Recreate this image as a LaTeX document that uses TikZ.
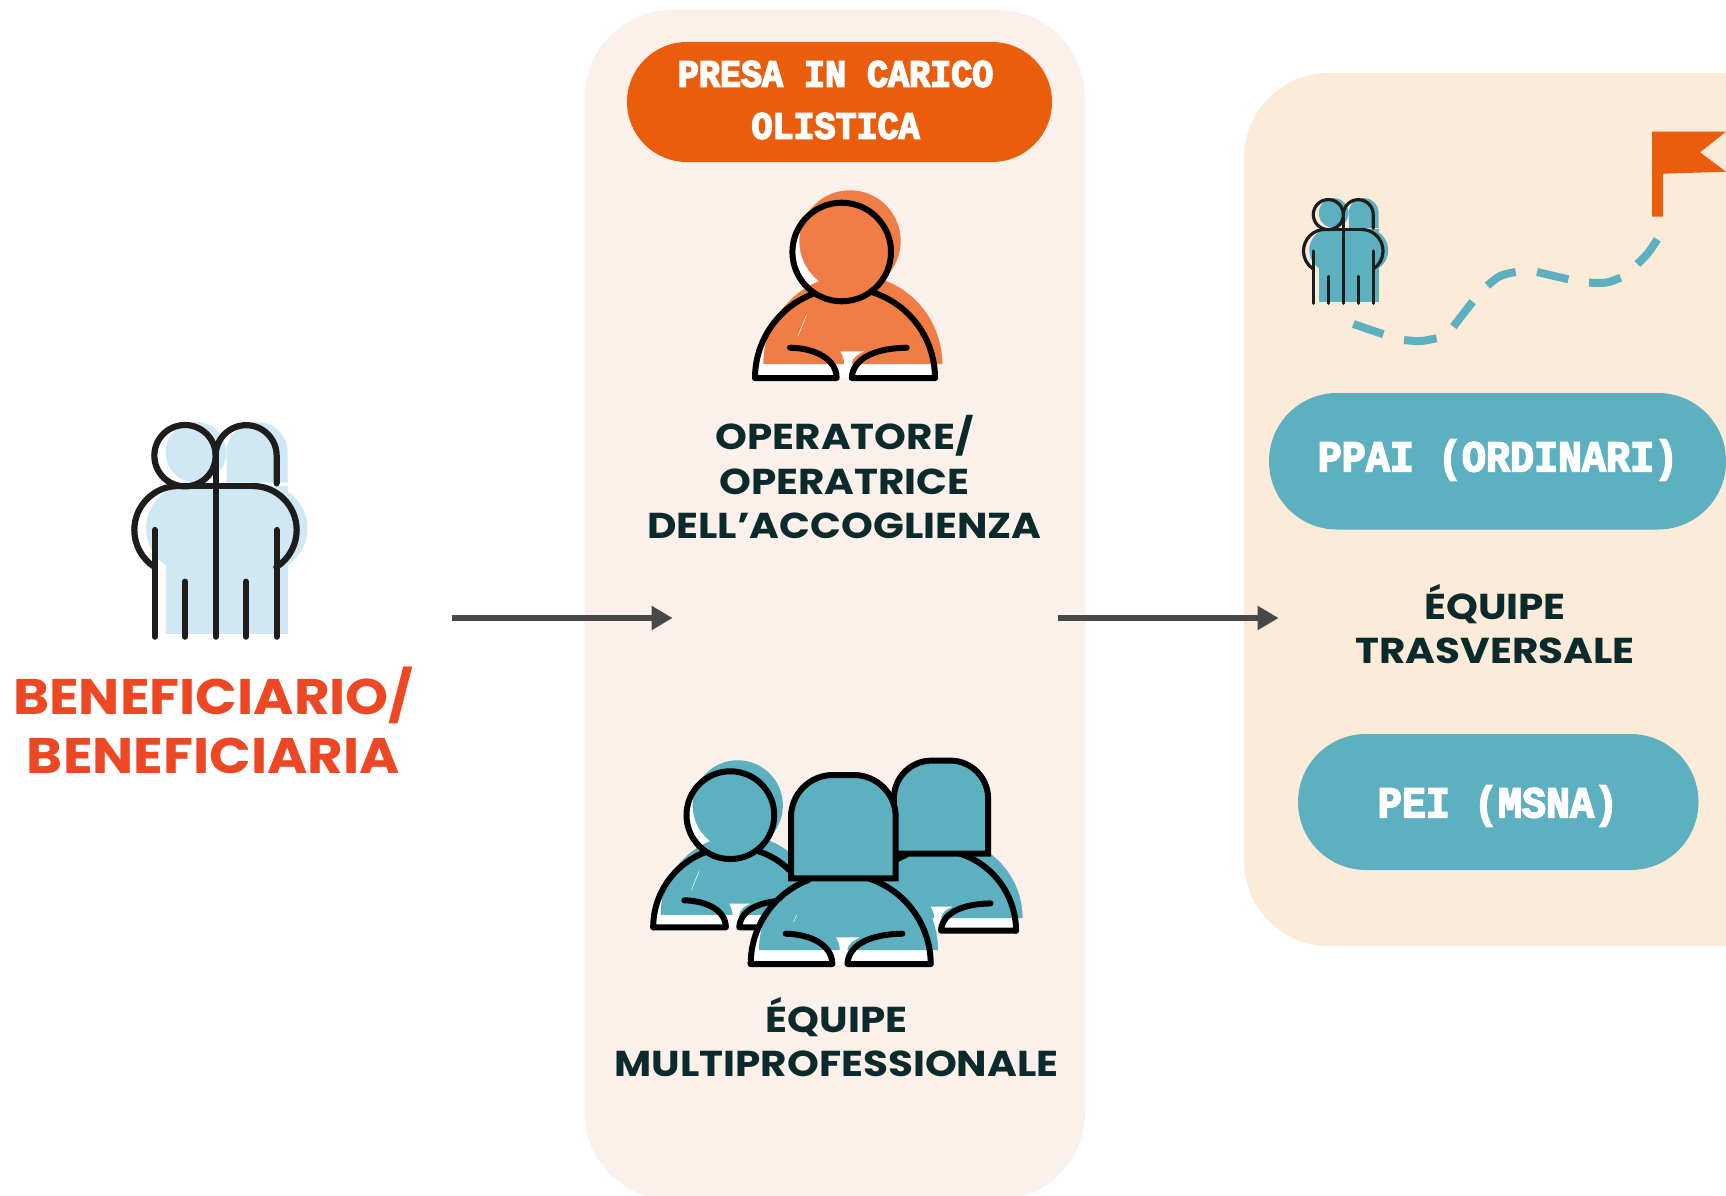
\documentclass[tikz,border=0pt]{standalone}
\usepackage{fontspec}
\usetikzlibrary{arrows.meta}
\setmainfont{Poppins}[FakeStretch=1.125]
\newfontfamily\benefont{Poppins}[FakeStretch=1.095]
\newfontfamily\pillfont{Liberation Mono}[FakeStretch=0.91]
\newcommand{\heavytext}[1]{\special{pdf:code 2 Tr 1.6 w}#1\special{pdf:code 0 Tr}}
\definecolor{panelA}{HTML}{FCF0EB}
\definecolor{panelB}{HTML}{FDEBDA}
\definecolor{orangeDeep}{HTML}{EA5D0C}
\definecolor{orangeSoft}{HTML}{F07D45}
\definecolor{tealC}{HTML}{5DB0BF}
\definecolor{blueSoft}{HTML}{CFE8F3}
\definecolor{redText}{HTML}{EE4723}
\definecolor{darkText}{HTML}{0A2A2B}
\definecolor{inkC}{HTML}{1D1D1B}
\definecolor{arrowC}{HTML}{484848}
\tikzset{
  pilltext/.style={text=white,align=center,font=\pillfont\bfseries\fontsize{38.5}{52}\selectfont,inner sep=0pt},
  pilltextB/.style={text=white,align=center,font=\pillfont\bfseries\fontsize{44}{52}\selectfont,inner sep=0pt},
  labeltext/.style={text=darkText,align=center,font=\bfseries\fontsize{36}{44.5}\selectfont,inner sep=0pt},
  benetext/.style={text=redText,align=center,font=\benefont\bfseries\fontsize{50}{59}\selectfont,inner sep=0pt},
  flow/.style={draw=arrowC,line width=6pt,-{Triangle[length=21pt,width=23pt]}},
  ink/.style={draw=#1,line cap=round,line join=round,fill=none},
  road/.style={draw=tealC,line width=8pt},
}
% person parts in local coordinates, origin at base centre of the body
\newcommand{\pbodyfill}[1]{%
  \fill[white] (-90,0) arc (180:360:90) -- cycle;
  \fill[#1] (-81.7,-14) arc (180:360:89.5) -- (6.7,-14) .. controls (7,-20) and (13,-24) .. (20,-26.7) -- (-5,-26.7) .. controls (-2,-22) and (-1,-18) .. (-1,-14) -- cycle;
}
\newcommand{\pbodyink}{%
  \draw[ink=black,line width=6pt] (-90,0) arc (180:249:90);
  \draw[ink=black,line width=6pt] (90,0) arc (0:-72:90);
  \draw[ink=black,line width=6pt] (-90,0) -- (-8.3,0) .. controls (-9,-22) and (-35,-30) .. (-55,-30.3);
  \draw[ink=black,line width=6pt] (90,0) -- (6.7,0) .. controls (8,-22) and (35,-30) .. (61.7,-30.3);
}
\newcommand{\manback}{\fill[white] (-3.3,-126) circle (49.3);}
\newcommand{\manhead}[1]{%
  \fill[#1] (5,-137) circle (50.7);
  \draw[ink=black,line width=6pt] (-3.3,-126) circle (49.3);
}
\newcommand{\womanhair}[2]{%
  \filldraw[fill=#1,draw=black,line width=6pt,line join=miter]
    (-49.7+#2,-85.7) -- (-49.7+#2,-147) arc (180:270:42) -- (13+#2,-189) arc (270:360:42) -- (55+#2,-85.7) -- cycle;
}
% couple icon, in the coordinates of a 3x crop
\newcommand{\couple}[2]{%
  \fill[#1] (288,157) circle (91);
  \fill[#1] (380,248) -- (380,157) arc (180:270:91) -- (472,66) arc (270:360:91) -- (563,248) -- cycle;
  \fill[#1] (270,385) circle (132);
  \fill[#1] (490,385) circle (132);
  \fill[#1] (270,253) rectangle (490,400);
  \fill[#1] (197,258) rectangle (563,702);
  \begin{scope}[ink=inkC,line width=#2]
    \draw (255,167) circle (92);
    \draw (347,167) arc (180:270:91.5) arc (270:360:91.5) -- (530,250);
    \draw (235,258) arc (270:122.5:132);
    \draw (458,258) arc (-90:57.5:132);
    \draw (235,258) -- (458,258);
    \draw (347,160) -- (347,710);
    \draw (164,390) -- (164,710);
    \draw (530,390) -- (530,710);
    \draw (255,545) -- (255,710);
    \draw (438,545) -- (438,710);
  \end{scope}
}
\begin{document}
\begin{tikzpicture}[yscale=-1,x=1pt,y=1pt]
\useasboundingbox (0,0) rectangle (1726,1196);
\fill[white] (0,0) rectangle (1726,1196);
\clip (0,0) rectangle (1726,1196);
% panels
\fill[panelA,rounded corners=88pt] (584.5,10) rectangle (1085,1200);
\fill[panelB,rounded corners=85pt] (1244,73) rectangle (1900,946);
% pills
\fill[orangeDeep,rounded corners=60pt] (627,42) rectangle (1052,162);
\fill[tealC,rounded corners=68pt] (1269,393) rectangle (1726,529.5);
\fill[tealC,rounded corners=68pt] (1298,734) rectangle (1698.5,870);
\node[pilltext] (presa) at (835.6,100) {\heavytext{PRESA IN CARICO}\\\heavytext{OLISTICA}};
\node[pilltextB] (ppai) at (1498,460) {\heavytext{PPAI (ORDINARI)}};
\node[pilltextB] (pei) at (1498,806) {\heavytext{PEI (MSNA)}};
% labels
\node[benetext] (bene) at (213.5,720) {BENEFICIARIO/\\BENEFICIARIA};
\node[labeltext] (oper) at (844.5,477.5) {OPERATORE/\\OPERATRICE\hspace*{10pt}\\DELL’ACCOGLIENZA};
\node[labeltext] (multi) at (836.6,1037) {ÉQUIPE\\MULTIPROFESSIONALE};
\node[labeltext] (trasv) at (1495,624) {ÉQUIPE\\TRASVERSALE};
% arrows
\coordinate (a1) at (451.5,618);
\coordinate (a2) at (672.6,618);
\coordinate (b1) at (1058,618);
\coordinate (b2) at (1278.6,618);
\draw[flow] (a1) -- (a2);
\draw[flow] (b1) -- (b2);
% big couple
\begin{scope}[shift={(100,400)},scale=0.33333]
\couple{blueSoft}{6.2pt}
\end{scope}
% operator
\begin{scope}[shift={(845,378)}]
\manback
\pbodyfill{orangeSoft}
\manhead{orangeSoft}
\pbodyink
\draw[white,line width=.5pt] (-38.5,-63) -- (-47,-42);
\end{scope}
% team: left man
\begin{scope}[shift={(733.3,927.3)},scale=0.89]
\manback
\pbodyfill{tealC}
\manhead{tealC}
\pbodyink
\draw[white,line width=.5pt] (-38.5,-63) -- (-47,-42);
\end{scope}
% team: right woman
\begin{scope}[shift={(935,930.7)},scale=0.9]
\pbodyfill{tealC}
\pbodyink
\womanhair{tealC}{4}
\end{scope}
% team: centre woman
\begin{scope}[shift={(840.7,964)}]
\pbodyfill{tealC}
\pbodyink
\womanhair{tealC}{0}
\draw[white,line width=.5pt] (-44,-49) -- (-47,-42);
\end{scope}
% small couple and road
\begin{scope}[shift={(1280,120)},scale=0.33333]
\begin{scope}[shift={(20,202)},scale=0.49]
\couple{tealC}{3.2pt}
\end{scope}
\draw[road] (220,612) -- (310,643);
\draw[road] (372,660) .. controls (420,665) .. (470,655);
\draw[road] (520,620) -- (578,545);
\draw[road] (622,497) .. controls (660,465) .. (707,456);
\draw[road] (771,456) -- (865,478);
\draw[road] (927,488) .. controls (980,490) .. (1022,473);
\draw[road] (1072,432) .. controls (1105,400) .. (1132,358);
\end{scope}
% flag
\fill[orangeDeep] (1652,131.7) -- (1726,131.7) -- (1700,152.3) -- (1726,171.7) -- (1663,173.7) -- (1663,216.7) -- (1652,216.7) -- cycle;
\end{tikzpicture}
\end{document}
